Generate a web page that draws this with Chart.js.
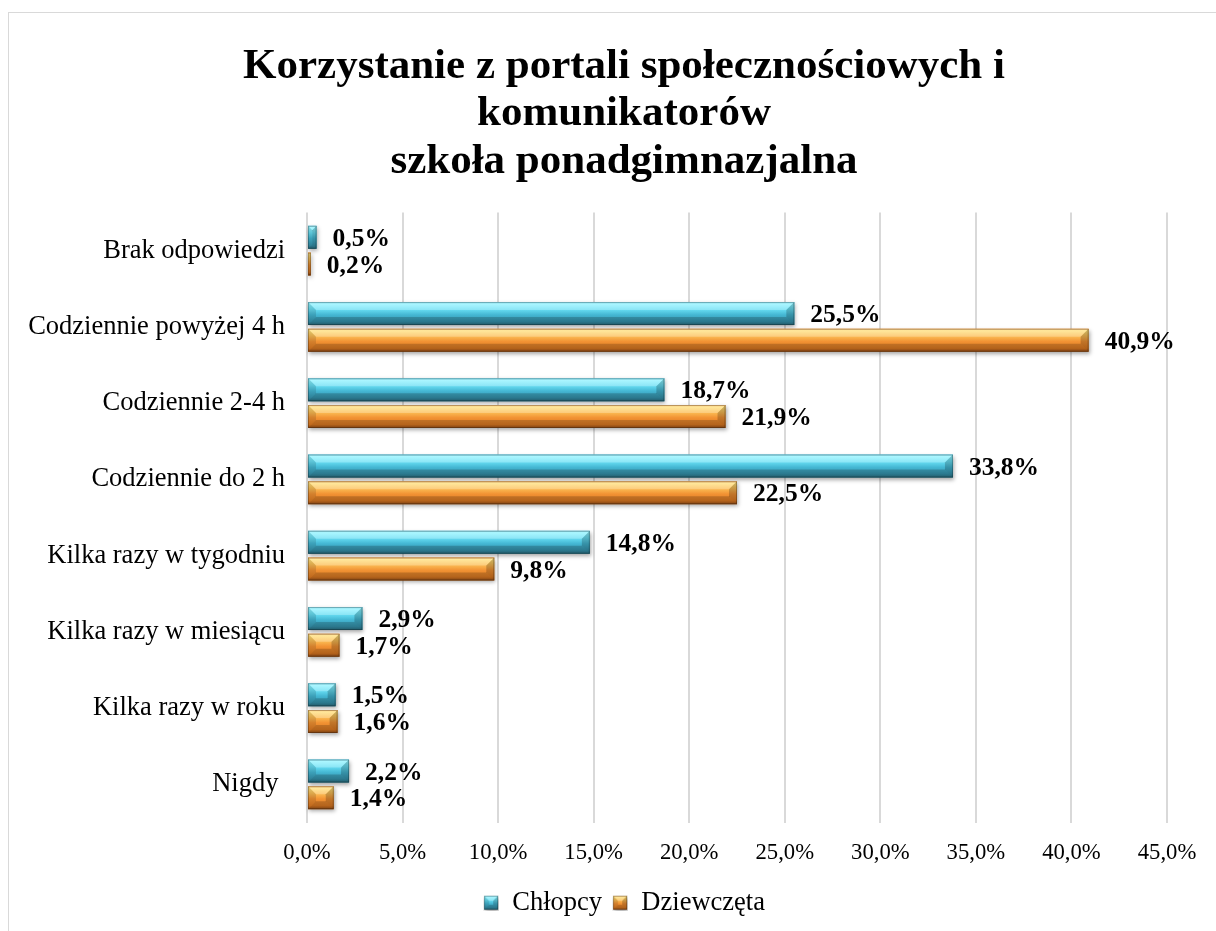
<!DOCTYPE html>
<html>
<head>
<meta charset="utf-8">
<script src="https://cdn.jsdelivr.net/npm/chart.js@4.4.0/dist/chart.umd.min.js"></script>
<style>
  html, body { margin: 0; padding: 0; background: #fff; overflow: hidden; }
  .frame { position: absolute; left: 8px; top: 12px; width: 1240px; height: 960px; border: 1px solid #d9d9d9; }
  #chart { position: absolute; left: 0; top: 0; }
</style>
</head>
<body>
<div class="frame"></div>
<canvas id="chart" width="1216" height="931"></canvas>
<script>
const categories = [
  'Brak odpowiedzi',
  'Codziennie powyżej 4 h',
  'Codziennie 2-4 h',
  'Codziennie do 2 h',
  'Kilka razy w tygodniu',
  'Kilka razy w miesiącu',
  'Kilka razy w roku',
  'Nigdy '
];
const boys = [0.5, 25.5, 18.7, 33.8, 14.8, 2.9, 1.5, 2.2];
const girls = [0.2, 40.9, 21.9, 22.5, 9.8, 1.7, 1.6, 1.4];
const xTicks = [0, 5, 10, 15, 20, 25, 30, 35, 40, 45];

const SERIF = "'Liberation Serif', 'Times New Roman', serif";

// gradient palettes for the bevelled bars
const palettes = [
  { stops: ['#5fd3ea', '#8ff3ff', '#6ae0f5', '#45b8d4', '#3593ad', '#2a6e80'], flat: '#45b8d4' },
  { stops: ['#f3a13e', '#ffe07a', '#fcc057', '#f29334', '#dd7a22', '#9a5018'], flat: '#f29334' }
];
const stopPos = [0, 0.08, 0.3, 0.55, 0.85, 1];

function pct(v) {
  return v.toFixed(1).replace('.', ',') + '%';
}

function bevelBar(ctx, x0, x1, y0, y1, pal) {
  const w = x1 - x0, h = y1 - y0;
  if (w <= 0) return;
  const g = ctx.createLinearGradient(0, y0, 0, y1);
  pal.stops.forEach((c, i) => g.addColorStop(stopPos[i], c));
  ctx.save();
  ctx.shadowColor = 'rgba(0,0,0,0.35)';
  ctx.shadowBlur = 4;
  ctx.shadowOffsetX = 1;
  ctx.shadowOffsetY = 2;
  ctx.fillStyle = g;
  ctx.fillRect(x0, y0, w, h);
  ctx.restore();

  const b = Math.min(h * 0.35, 8, w / 2);
  ctx.save();
  // top face
  ctx.fillStyle = 'rgba(255,255,255,0.25)';
  ctx.beginPath();
  ctx.moveTo(x0, y0); ctx.lineTo(x1, y0); ctx.lineTo(x1 - b, y0 + b); ctx.lineTo(x0 + b, y0 + b);
  ctx.closePath(); ctx.fill();
  // bottom face
  ctx.fillStyle = 'rgba(0,0,0,0.18)';
  ctx.beginPath();
  ctx.moveTo(x0, y1); ctx.lineTo(x1, y1); ctx.lineTo(x1 - b, y1 - b); ctx.lineTo(x0 + b, y1 - b);
  ctx.closePath(); ctx.fill();
  // left face
  ctx.fillStyle = 'rgba(0,0,0,0.12)';
  ctx.beginPath();
  ctx.moveTo(x0, y0); ctx.lineTo(x0 + b, y0 + b); ctx.lineTo(x0 + b, y1 - b); ctx.lineTo(x0, y1);
  ctx.closePath(); ctx.fill();
  // right face
  ctx.fillStyle = 'rgba(0,0,0,0.2)';
  ctx.beginPath();
  ctx.moveTo(x1, y0); ctx.lineTo(x1 - b, y0 + b); ctx.lineTo(x1 - b, y1 - b); ctx.lineTo(x1, y1);
  ctx.closePath(); ctx.fill();
  ctx.strokeStyle = 'rgba(0,0,0,0.25)';
  ctx.lineWidth = 1;
  ctx.strokeRect(x0 + 0.5, y0 + 0.5, w - 1, h - 1);
  ctx.restore();
}

function legendIcon(pal) {
  const c = document.createElement('canvas');
  c.width = 16; c.height = 16;
  bevelBar(c.getContext('2d'), 1, 15, 1, 15, pal);
  return c;
}

const bevelBars = {
  id: 'bevelBars',
  afterLayout(chart) {
    // let the category labels run into the left padding without being clipped
    chart.scales.y.left = 0;
  },
  afterDatasetsDraw(chart) {
    const ctx = chart.ctx;
    chart.data.datasets.forEach((ds, di) => {
      const meta = chart.getDatasetMeta(di);
      meta.data.forEach(el => {
        const p = el.getProps(['x', 'y', 'base', 'height'], true);
        bevelBar(ctx, p.base, p.x, p.y - p.height / 2, p.y + p.height / 2, palettes[di]);
      });
    });
    // value labels
    ctx.save();
    ctx.font = 'bold 25.5px ' + SERIF;
    ctx.fillStyle = '#000';
    ctx.textAlign = 'left';
    ctx.textBaseline = 'middle';
    chart.data.datasets.forEach((ds, di) => {
      const meta = chart.getDatasetMeta(di);
      meta.data.forEach((el, i) => {
        const p = el.getProps(['x', 'y'], true);
        ctx.fillText(pct(ds.data[i]), p.x + 16, p.y + 2);
      });
    });
    ctx.restore();
  }
};

new Chart(document.getElementById('chart'), {
  type: 'bar',
  data: {
    labels: categories,
    datasets: [
      { label: 'Chłopcy', data: boys, backgroundColor: palettes[0].flat },
      { label: 'Dziewczęta', data: girls, backgroundColor: palettes[1].flat }
    ]
  },
  options: {
    indexAxis: 'y',
    responsive: false,
    animation: false,
    categoryPercentage: 0.7,
    barPercentage: 0.86,
    layout: { padding: { top: 0, right: 49, bottom: 5, left: 81 } },
    scales: {
      x: {
        min: 0,
        max: 45,
        afterBuildTicks: s => { s.ticks = xTicks.map(v => ({ value: v })); },
        afterFit: s => { s.height = 57; },
        grid: { color: '#d9d9d9', lineWidth: 2, drawTicks: false },
        border: { display: false },
        ticks: {
          padding: 17,
          color: '#000',
          font: { family: SERIF, size: 22.7 },
          callback: v => pct(v)
        }
      },
      y: {
        afterFit: s => { s.width = 226; },
        grid: { display: false, drawTicks: false },
        border: { display: false },
        ticks: {
          padding: 22,
          color: '#000',
          font: { family: SERIF, size: 26.5 }
        }
      }
    },
    plugins: {
      title: {
        display: true,
        text: ['Korzystanie z portali społecznościowych i', 'komunikatorów', 'szkoła ponadgimnazjalna'],
        color: '#000',
        font: { family: SERIF, size: 43, weight: 'bold', lineHeight: 1.105 },
        padding: { top: 43, bottom: 27 }
      },
      legend: {
        position: 'bottom',
        labels: {
          color: '#000',
          font: { family: SERIF, size: 26.5 },
          usePointStyle: true,
          boxWidth: 16,
          boxHeight: 16,
          padding: 10,
          generateLabels: chart => chart.data.datasets.map((ds, i) => ({
            text: ds.label,
            pointStyle: legendIcon(palettes[i]),
            fillStyle: palettes[i].flat,
            strokeStyle: palettes[i].flat,
            lineWidth: 0,
            fontColor: '#000',
            datasetIndex: i,
            hidden: false
          }))
        }
      },
      tooltip: { enabled: false }
    }
  },
  plugins: [bevelBars]
});
</script>
</body>
</html>
